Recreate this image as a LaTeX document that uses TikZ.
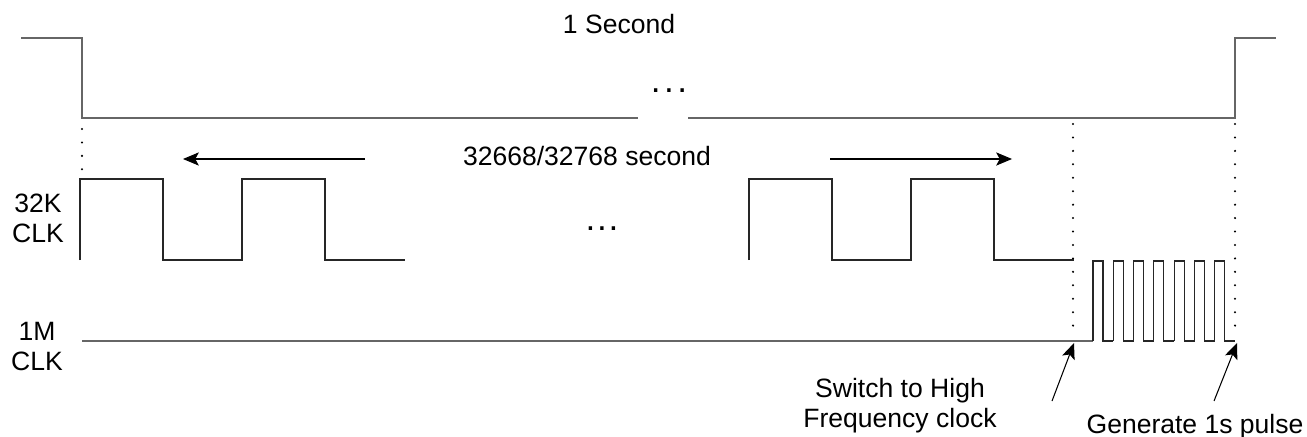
\documentclass[tikz,border=0pt]{standalone}
\usepackage{fontspec}
\setmainfont{Liberation Sans}
\usetikzlibrary{arrows.meta}

\begin{document}
\begin{tikzpicture}[x=0.02cm, y=-0.02cm,
  lbl/.style={inner sep=0pt, anchor=base, align=center, font=\fontsize{15.1}{17.07}\selectfont},
  gap/.style={inner sep=0pt, anchor=base, font=\fontsize{20}{20}\selectfont},
  slow/.style={line width=0.8pt, black!60},
  wave/.style={line width=0.6pt, black!85},
  ptr/.style={line width=0.6pt, -{Stealth[length=9pt,width=7.5pt,inset=2pt]}},
  guide/.style={line width=1.3pt, line cap=round, dash pattern=on 0pt off 7.65pt}]
\useasboundingbox (0,0) rectangle (1307,436);
% One second signal on top, broken in the middle
\draw[slow] (21,38) -- (82,38) -- (82,118) -- (638,118);
\draw[slow] (688,118) -- (1235,118) -- (1235,38) -- (1276,38);
\node[lbl] (sec) at (619,33) {1 Second};
\node[gap] (dotsA) at (669,92) {.\kern2pt.\kern2pt.};
% Dotted guide lines
\draw[guide] (82,129) -- (82,171);
\draw[guide] (1073,124) -- (1073,331);
\draw[guide] (1235,124) -- (1235,331);
% Span of the slow clock
\node[lbl] (frac) at (587,165) {32668/32768 second};
\coordinate (lA) at (365,159);
\coordinate (lB) at (183,159);
\coordinate (rA) at (830,159);
\coordinate (rB) at (1012,159);
\draw[ptr] (lA) -- (lB);
\draw[ptr] (rA) -- (rB);
% 32K clock, two groups of two periods
\node[lbl] (clkA) at (38,242) {32K\\CLK};
\foreach \x in {80,242,749,911}
  \draw[wave] (\x,260) -- (\x,179) -- ++(83,0) -- ++(0,81) -- ++(80,0);
\node[gap] (dotsB) at (602,230) {.\kern1pt.\kern1pt.};
% 1M clock, low until the switch, then fast pulses
\node[lbl] (clkB) at (37,370) {1M\\CLK};
\draw[slow] (82,341) -- (1093,341);
\foreach \i in {0,...,6}
  \draw[wave] ({1093+20.3*\i},341) -- ++(0,-80) -- ++(10,0) -- ++(0,80) -- ++(10.3,0);
% Notes below
\node[lbl] (switch) at (900,427) {Switch to High\\Frequency clock};
\node[lbl] (gen) at (1195,433) {Generate 1s pulse};
\coordinate (swTail) at (1052,401);
\coordinate (swTip) at (1074,343);
\coordinate (genTail) at (1214,401);
\coordinate (genTip) at (1237,343);
\draw[ptr] (swTail) -- (swTip);
\draw[ptr] (genTail) -- (genTip);
\end{tikzpicture}
\end{document}
